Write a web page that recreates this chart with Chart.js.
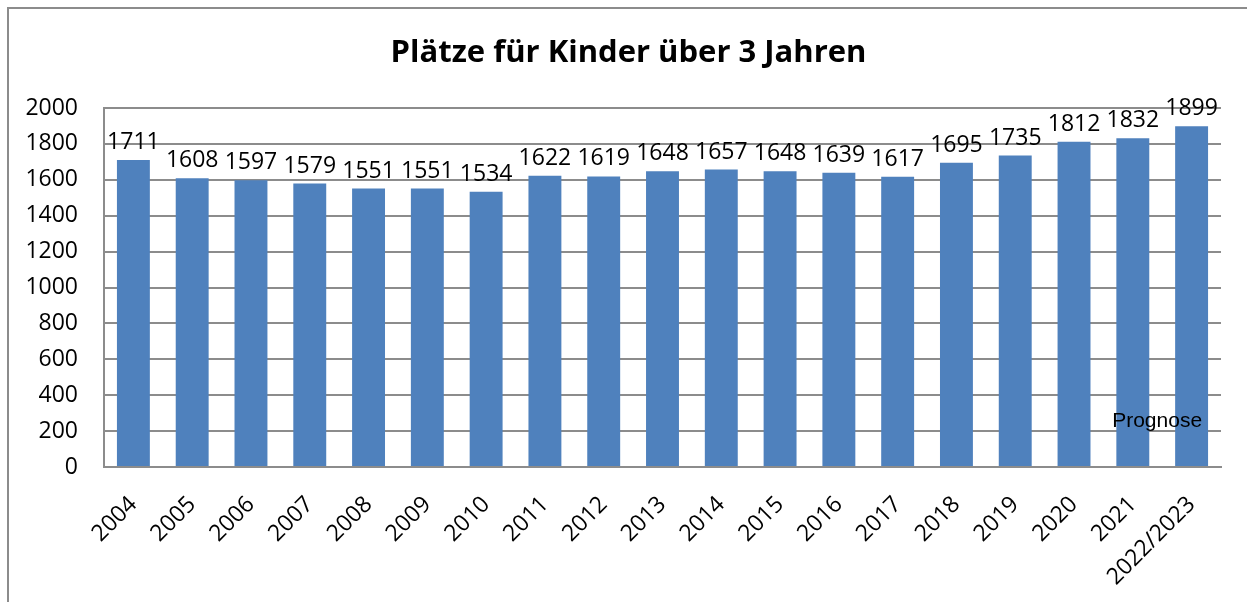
<!DOCTYPE html>
<html>
<head>
<meta charset="utf-8">
<script src="https://cdn.jsdelivr.net/npm/chart.js@4"></script>
<style>
  body { margin: 0; background: #fff; }
</style>
</head>
<body>
<canvas id="myChart" width="1247" height="602"></canvas>
<script>
const titleText = "Plätze für Kinder über 3 Jahren";
const years = ["2004", "2005", "2006", "2007", "2008", "2009", "2010", "2011", "2012", "2013",
  "2014", "2015", "2016", "2017", "2018", "2019", "2020", "2021", "2022/2023"];
const places = [1711, 1608, 1597, 1579, 1551, 1551, 1534, 1622, 1619, 1648,
  1657, 1648, 1639, 1617, 1695, 1735, 1812, 1832, 1899];
const yTicks = [0, 200, 400, 600, 800, 1000, 1200, 1400, 1600, 1800, 2000];
const noteText = "Prognose";

const barColor = "#4F81BD";
const gridColor = "#8c8c8c";
const fontFamily = "'Open Sans'";
const labelSize = 23;

// white background, frame (left and top edges visible) and the title,
// centred on the frame rather than on the canvas
const framePlugin = {
  id: "frame",
  beforeDraw(chart) {
    const ctx = chart.ctx;
    ctx.save();
    ctx.fillStyle = "#fff";
    ctx.fillRect(0, 0, chart.width, chart.height);
    ctx.strokeStyle = gridColor;
    ctx.lineWidth = 2;
    ctx.beginPath();
    ctx.moveTo(8, chart.height);
    ctx.lineTo(8, 8);
    ctx.lineTo(chart.width, 8);
    ctx.stroke();

    ctx.font = "bold 31px " + fontFamily;
    ctx.fillStyle = "#000";
    ctx.textAlign = "center";
    ctx.textBaseline = "middle";
    ctx.fillText(titleText, (chart.width + 10) / 2, 53);
    ctx.restore();
  }
};

// value above each bar
const valueLabels = {
  id: "valueLabels",
  afterDatasetsDraw(chart) {
    const ctx = chart.ctx;
    const meta = chart.getDatasetMeta(0);
    ctx.save();
    ctx.font = labelSize + "px " + fontFamily;
    ctx.fillStyle = "#000";
    ctx.textAlign = "center";
    ctx.textBaseline = "alphabetic";
    meta.data.forEach((bar, i) => {
      ctx.fillText(String(places[i]), bar.x, bar.y - 11);
    });
    ctx.restore();
  }
};

// "Prognose" note on the last bar
const notePlugin = {
  id: "note",
  afterDatasetsDraw(chart) {
    const ctx = chart.ctx;
    const last = chart.getDatasetMeta(0).data[places.length - 1];
    ctx.save();
    ctx.font = "21px 'Liberation Sans'";
    ctx.fillStyle = "#000";
    ctx.textAlign = "right";
    ctx.textBaseline = "alphabetic";
    ctx.fillText(noteText, last.x + last.width / 2 - 6, chart.scales.y.getPixelForValue(200) - 4);
    ctx.restore();
  }
};

let chartInstance = new Chart("myChart", {
  type: "bar",
  data: {
    labels: years,
    datasets: [{
      data: places,
      backgroundColor: barColor,
      borderWidth: 0,
      barPercentage: 0.56,
      categoryPercentage: 1.0,
    }],
  },
  options: {
    responsive: false,
    animation: false,
    devicePixelRatio: 1,
    // top padding leaves room for the title drawn by framePlugin
    layout: { padding: { left: 0, right: 26, top: 108, bottom: 0 } },
    plugins: {
      legend: { display: false },
      tooltip: { enabled: false },
      title: { display: false },
    },
    scales: {
      x: {
        grid: { display: false, drawTicks: false },
        border: { display: true, color: gridColor, width: 2 },
        ticks: {
          color: "#000",
          font: { family: fontFamily, size: labelSize },
          minRotation: 45,
          maxRotation: 45,
          autoSkip: false,
          padding: 24,
        },
        afterFit(scale) { scale.height = 135; },
      },
      y: {
        min: 0,
        max: 2000,
        afterBuildTicks(scale) { scale.ticks = yTicks.map(v => ({ value: v })); },
        grid: { color: gridColor, lineWidth: 2, drawTicks: false },
        border: { display: true, color: gridColor, width: 2 },
        ticks: {
          color: "#000",
          font: { family: fontFamily, size: labelSize },
          padding: 26,
          callback: (v) => String(v),
        },
        afterFit(scale) { scale.width = 104; },
      },
    },
  },
  plugins: [framePlugin, valueLabels, notePlugin],
});
</script>
</body>
</html>
